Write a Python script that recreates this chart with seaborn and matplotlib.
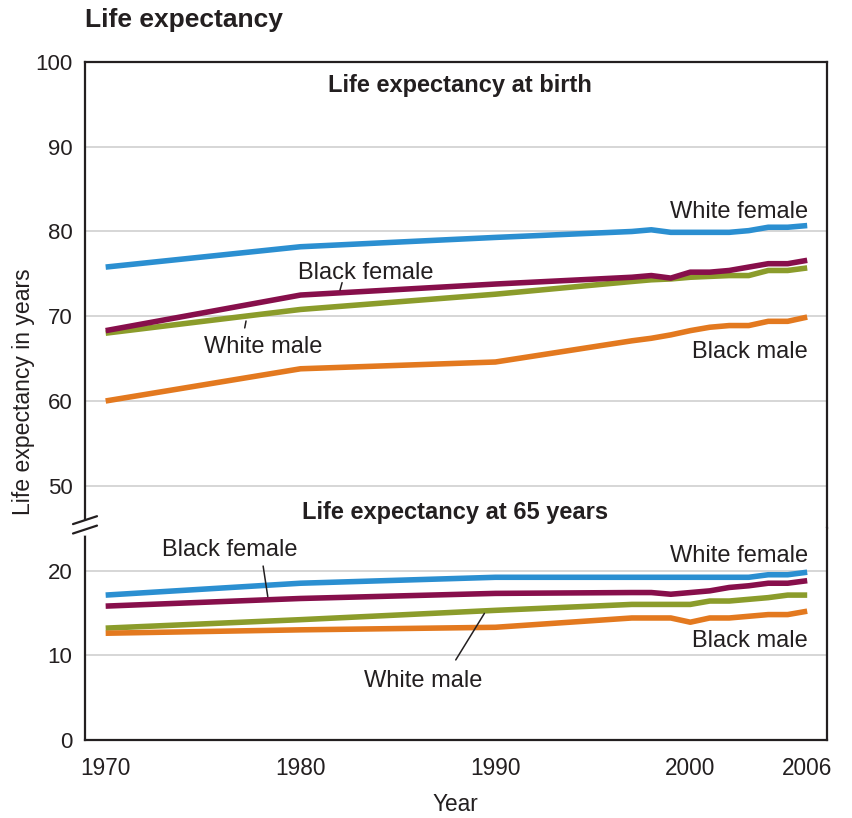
import pandas as pd
import seaborn as sns
import matplotlib.pyplot as plt
from matplotlib.lines import Line2D

# Datos
years = [1970, 1980, 1990, 1997, 1998, 1999, 2000, 2001, 2002, 2003, 2004, 2005, 2006]

# Esperanza de vida al nacer
white_female = [75.8, 78.2, 79.3, 80.0, 80.2, 79.9, 79.9, 79.9, 79.9, 80.1, 80.5, 80.5, 80.7]
black_female = [68.3, 72.5, 73.8, 74.6, 74.8, 74.5, 75.2, 75.2, 75.4, 75.8, 76.2, 76.2, 76.6]
white_male = [68.0, 70.8, 72.6, 74.1, 74.3, 74.4, 74.6, 74.7, 74.8, 74.8, 75.4, 75.4, 75.7]
black_male = [60.0, 63.8, 64.6, 67.1, 67.4, 67.8, 68.3, 68.7, 68.9, 68.9, 69.4, 69.4, 69.9]

# Esperanza de vida a los 65
white_female_65 = [17.1, 18.5, 19.2, 19.2, 19.2, 19.2, 19.2, 19.2, 19.2, 19.2, 19.5, 19.5, 19.8]
black_female_65 = [15.8, 16.7, 17.3, 17.4, 17.4, 17.2, 17.4, 17.6, 18.0, 18.2, 18.5, 18.5, 18.8]
white_male_65 = [13.2, 14.2, 15.3, 16.0, 16.0, 16.0, 16.0, 16.4, 16.4, 16.6, 16.8, 17.1, 17.1]
black_male_65 = [12.6, 13.0, 13.3, 14.4, 14.4, 14.4, 13.9, 14.4, 14.4, 14.6, 14.8, 14.8, 15.2]

grupos = ['White male', 'White female', 'Black male', 'Black female']
colores = {'White female': '#2b8fd1', 'Black female': '#870f4b',
           'White male': '#8b9c2b', 'Black male': '#e3791f'}
x_ticks = [1970, 1980, 1990, 2000, 2006]

TXT = '#231f20'

sns.set_style('white')
plt.rcParams['font.family'] = ['Liberation Sans', 'DejaVu Sans']


def armar_df(series):
    df = pd.DataFrame({'Year': years, **series})
    return df.melt(id_vars='Year', var_name='Group', value_name='Value')


df_birth = armar_df({'White female': white_female, 'Black female': black_female,
                     'White male': white_male, 'Black male': black_male})
df_65 = armar_df({'White female': white_female_65, 'Black female': black_female_65,
                  'White male': white_male_65, 'Black male': black_male_65})

fig = plt.figure(figsize=(8.53, 8.18), dpi=100)
ax_top = fig.add_axes([0.09965, 0.35440, 0.8695, 0.56981])
ax_bot = fig.add_axes([0.09965, 0.09535, 0.8695, 0.25900])

sns.lineplot(data=df_birth, x='Year', y='Value', hue='Group', hue_order=grupos,
             palette=colores, linewidth=4, legend=False, ax=ax_top,
             solid_capstyle='butt')
sns.lineplot(data=df_65, x='Year', y='Value', hue='Group', hue_order=grupos,
             palette=colores, linewidth=4, legend=False, ax=ax_bot,
             solid_capstyle='butt')

ax_top.set_ylim(45, 100)
ax_bot.set_ylim(0, 25)
ax_top.set_yticks([50, 60, 70, 80, 90, 100])
ax_bot.set_yticks([0, 10, 20])

for ax in (ax_top, ax_bot):
    ax.set_xlim(1968.94, 2007.0)
    ax.set_xticks(x_ticks)
    ax.set_axisbelow(True)
    ax.grid(axis='y', color='#cfcfcf', linewidth=1.2)
    ax.grid(axis='x', visible=False)
    ax.set_xlabel('')
    ax.set_ylabel('')
    for lado in ['left', 'right', 'top', 'bottom']:
        ax.spines[lado].set_color(TXT)
        ax.spines[lado].set_linewidth(1.6)
    ax.tick_params(axis='y', length=0, pad=9, labelsize=16, labelcolor=TXT)

ax_top.spines['bottom'].set_visible(False)
ax_bot.spines['top'].set_visible(False)
ax_top.tick_params(axis='x', bottom=False, labelbottom=False)
ax_bot.tick_params(axis='x', direction='out', length=4.5, width=1.6, color=TXT,
                   pad=8, labelsize=16.3, labelcolor=TXT)
ax_bot.set_xlabel('Year', fontsize=16.3, color=TXT, labelpad=9)

# Titulos
fig.text(85 / 853, 1 - 27 / 818, 'Life expectancy', fontsize=19, fontweight='bold',
         color=TXT, ha='left', va='baseline')
fig.text(23.5 / 853, 1 - 392 / 818, 'Life expectancy in years', fontsize=16.6,
         color=TXT, rotation=90, ha='center', va='center')

ax_top.text(1988.18, 96.43, 'Life expectancy at birth', fontsize=17,
            fontweight='bold', color=TXT, ha='center', va='baseline')
ax_bot.text(1987.92, 26.1, 'Life expectancy at 65 years', fontsize=17,
            fontweight='bold', color=TXT, ha='center', va='baseline', clip_on=False)

# Etiquetas de las series (arriba)
ax_top.text(2006.05, 81.56, 'White female', fontsize=17, color=TXT,
            ha='right', va='baseline')
ax_top.text(2006.05, 65.04, 'Black male', fontsize=17, color=TXT,
            ha='right', va='baseline')
ax_top.text(1979.87, 74.45, 'Black female', fontsize=17, color=TXT,
            ha='left', va='baseline')
ax_top.text(1975.04, 65.63, 'White male', fontsize=17, color=TXT,
            ha='left', va='baseline')
ax_top.annotate('', xy=(1981.99, 72.78), xytext=(1982.17, 74.28),
                arrowprops=dict(arrowstyle='-', color=TXT, lw=1.1))
ax_top.annotate('', xy=(1977.11, 68.3), xytext=(1977.23, 69.76),
                arrowprops=dict(arrowstyle='-', color=TXT, lw=1.1))

# Etiquetas de las series (abajo)
ax_bot.text(2006.05, 21.04, 'White female', fontsize=17, color=TXT,
            ha='right', va='baseline')
ax_bot.text(2006.05, 10.94, 'Black male', fontsize=17, color=TXT,
            ha='right', va='baseline')
ax_bot.text(1972.87, 21.71, 'Black female', fontsize=17, color=TXT,
            ha='left', va='baseline')
ax_bot.text(1983.25, 6.29, 'White male', fontsize=17, color=TXT,
            ha='left', va='baseline')
ax_bot.annotate('', xy=(1978.34, 16.6), xytext=(1978.06, 20.85),
                arrowprops=dict(arrowstyle='-', color=TXT, lw=1.1))
ax_bot.annotate('', xy=(1989.51, 15.22), xytext=(1987.89, 9.17),
                arrowprops=dict(arrowstyle='-', color=TXT, lw=1.1))

# Marca de corte del eje
def px(x, y):
    return x / 853, 1 - y / 818

x0, y0 = px(85, 522.5)
x1, y1 = px(85, 532.5)
fig.add_artist(Line2D([x0, x1], [y0, y1], transform=fig.transFigure,
                      color='white', linewidth=4, zorder=5))
for dy in (-4.7, 4.7):
    a = px(73, 533.5 + dy - 4.7)
    b = px(97, 520.9 + dy)
    fig.add_artist(Line2D([a[0], b[0]], [a[1], b[1]], transform=fig.transFigure,
                          color=TXT, linewidth=1.6, zorder=6))

plt.savefig('out.png', dpi=100)
